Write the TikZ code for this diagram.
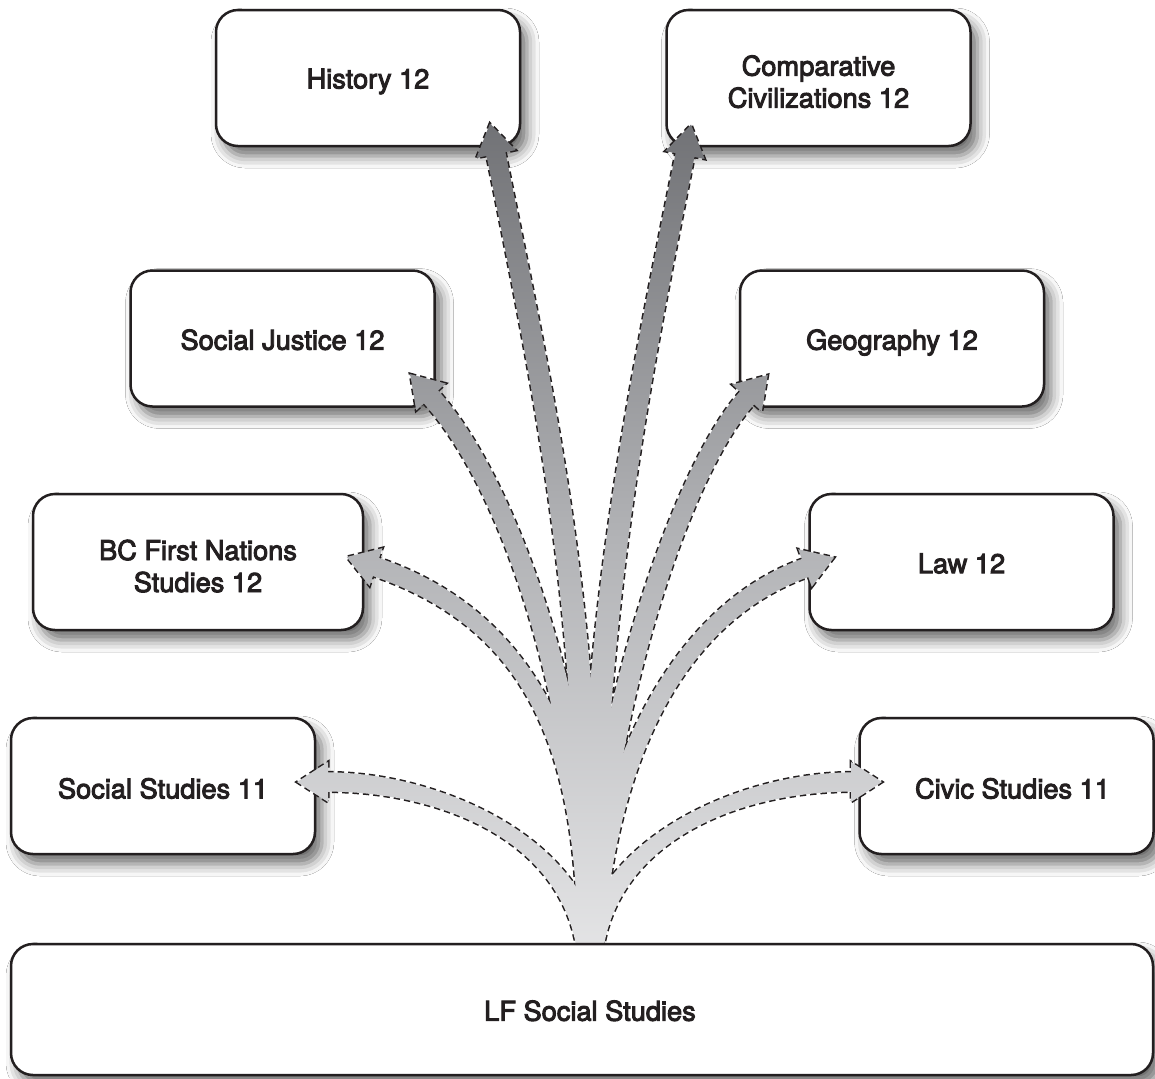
\documentclass[tikz,border=0pt]{standalone}
\usepackage{fontspec}
\setmainfont{TeX Gyre Heros}[BoldFont=TeX Gyre Heros, BoldFeatures={FakeBold=3.5}]
\usetikzlibrary{calc,shadows.blur}
\definecolor{ink}{HTML}{231F20}
\definecolor{gtop}{RGB}{94,95,99}
\definecolor{gmid}{RGB}{178,179,182}
\definecolor{gbot}{RGB}{243,243,244}
\newcommand\lbl[2][2.4pt]{\raisebox{-#1}[\height][\depth]{\begin{tabular}{@{}c@{}}#2\end{tabular}}}
\tikzset{
  box/.style={draw=ink, line width=1.25pt, fill=white, rounded corners=11pt,
    inner sep=0pt, text=ink, font=\fontsize{13.6}{16}\selectfont\bfseries,
    minimum width=152pt, minimum height=68pt,
    blur shadow={shadow xshift=3.5pt, shadow yshift=-5pt, shadow blur radius=6pt, shadow opacity=58}},
  arrowline/.style={draw=ink, line width=1.5pt, dash pattern=on 3.2pt off 2pt, line join=miter},
  arrowshade/.style={top color=gtop, bottom color=gbot, middle color=gmid},
}
% #1 name, #2 base, #3 c1, #4 c2, #5 neck
\newcommand\mkarrow[5]{%
  \coordinate (#1-P) at #2;
  \coordinate (#1-c1) at #3;
  \coordinate (#1-c2) at #4;
  \coordinate (#1-N) at #5;
  \coordinate (#1-Pl) at ($(#1-P)!6pt!90:(#1-c1)$);
  \coordinate (#1-Pr) at ($(#1-P)!6pt!-90:(#1-c1)$);
  \coordinate (#1-c1l) at ($(#1-c1)+(#1-Pl)-(#1-P)$);
  \coordinate (#1-c1r) at ($(#1-c1)+(#1-Pr)-(#1-P)$);
  \coordinate (#1-Nl) at ($(#1-N)!4.8pt!-90:(#1-c2)$);
  \coordinate (#1-Nr) at ($(#1-N)!4.8pt!90:(#1-c2)$);
  \coordinate (#1-c2l) at ($(#1-c2)+(#1-Nl)-(#1-N)$);
  \coordinate (#1-c2r) at ($(#1-c2)+(#1-Nr)-(#1-N)$);
  \coordinate (#1-Bl) at ($(#1-N)!10pt!-90:(#1-c2)$);
  \coordinate (#1-Br) at ($(#1-N)!10pt!90:(#1-c2)$);
  \coordinate (#1-T) at ($(#1-N)!-15.5pt!(#1-c2)$);
}
\newcommand\arrpath[1]{(#1-Pl) .. controls (#1-c1l) and (#1-c2l) .. (#1-Nl) -- (#1-Bl) -- (#1-T) -- (#1-Br) -- (#1-Nr) .. controls (#1-c2r) and (#1-c1r) .. (#1-Pr) -- cycle}
\newcommand\arrfill[1]{\begin{scope}\clip \arrpath{#1}; \shade[arrowshade] (0,0) rectangle (1155,1078);\end{scope}}
\begin{document}
\begin{tikzpicture}[x=0.5pt, y=-0.5pt]
\useasboundingbox (0,0) rectangle (1155,1078);
\fill[white] (0,0) rectangle (1155,1078);
% boxes
\node[box] (hist) at (368,78) {\lbl[2pt]{History 12}};
\node[box] (comp) at (818.5,78) {\lbl[3.6pt]{Comparative\\Civilizations 12}};
\node[box] (sj) at (282.5,338.5) {\lbl{Social Justice 12}};
\node[box] (geo) at (892,338.5) {\lbl{Geography 12}};
\node[box, minimum width=165pt] (bc) at (198,562) {\lbl[3.8pt]{BC First Nations\\Studies 12}};
\node[box] (law) at (961.5,562) {\lbl{Law 12}};
\node[box] (ss) at (163,786) {\lbl[3pt]{Social Studies 11}};
\node[box, minimum width=147pt] (civ) at (1006.5,786) {\lbl[3pt]{\hspace*{6pt}Civic Studies 11}};
% arrows geometry
\coordinate (base) at (590,960);
\mkarrow{hist}{(base)}{(590,600)}{(545,400)}{(496,154)}
\mkarrow{comp}{(base)}{(590,620)}{(640,380)}{(685,155)}
\mkarrow{sj}{(base)}{(590,720)}{(512,486)}{(431,397)}
\mkarrow{geo}{(base)}{(590,760)}{(673,480)}{(747,398)}
\mkarrow{bc}{(base)}{(590,760)}{(537,622)}{(376,567)}
\mkarrow{law}{(base)}{(600,790)}{(664,619)}{(805,568)}
\mkarrow{ss}{(base)}{(580,840)}{(440,782)}{(328,782)}
\mkarrow{civ}{(base)}{(600,840)}{(740,782)}{(851,782)}
% dashed outlines
\foreach \a in {hist,comp,sj,geo,bc,law,ss,civ}{\draw[arrowline] \arrpath{\a};}
% shaded fills
\foreach \a in {hist,comp,sj,geo,bc,law,ss,civ}{\arrfill{\a}}
% bottom box
\node[box, minimum width=571pt, minimum height=65.5pt] (lf) at (582,1009.5) {\lbl{\hspace*{8pt}LF Social Studies}};
\end{tikzpicture}
\end{document}
